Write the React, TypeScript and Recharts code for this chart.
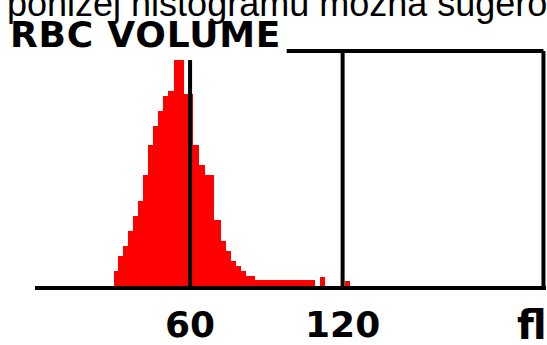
import { AreaChart, Area, XAxis, YAxis, ReferenceLine } from 'recharts'

// bin start (fL) and relative height of each step of the histogram
const BIN_EDGES = [30, 31.5, 33.5, 35.5, 37.5, 39.5, 41.5, 43.5, 45.5, 47.5, 49.5, 51.5, 53.5, 57.5, 61, 63.5, 66, 69.5, 72, 74, 76, 78, 80, 82, 85.5, 109, 111, 113, 121, 123]
const BIN_HEIGHTS = [7.4, 13.9, 18.3, 24.8, 31.7, 38.3, 49.6, 62.6, 70.9, 77.8, 84.3, 86.5, 100, 85, 62.6, 53.9, 49.6, 30, 20.4, 16.1, 11.7, 9.6, 7.4, 5.2, 3.5, 0, 4.8, 0, 3, 0]

const X_TICKS = [60, 120]
const X_DOMAIN: [number, number] = [-1, 200]
const FRAME_RIGHT = 199
const FRAME_TOP = 104
const UNDERLINE_START = 98

const TITLE = 'RBC VOLUME'
const UNIT = 'fl'
const CAPTION = 'poniżej histogramu można sugerować'

const data = BIN_EDGES.map((v, i) => ({ v, h: BIN_HEIGHTS[i] }))

const BOLD = '"DejaVu Sans", sans-serif'
const LINE = 4

function Tick(props: any) {
  const { x, y, payload } = props
  return (
    <text x={x} y={y} dy={41} textAnchor="middle" fontFamily={BOLD} fontWeight="bold" fontSize={36} fill="#000">
      {payload.value}
    </text>
  )
}

export default function App() {
  return (
    <div style={{ position: 'absolute', left: 0, top: 0, width: 547, height: 345, background: '#fff', overflow: 'hidden' }}>
      <AreaChart width={547} height={345} data={data} margin={{ top: 60, right: 1, bottom: 0, left: 35 }}>
        <XAxis
          type="number"
          dataKey="v"
          domain={X_DOMAIN}
          ticks={X_TICKS}
          height={57}
          tickLine={false}
          axisLine={{ stroke: '#000', strokeWidth: LINE }}
          tick={<Tick />}
          interval={0}
        />
        <YAxis width={0} domain={[0, 100]} tick={false} tickLine={false} axisLine={{ stroke: '#000', strokeWidth: LINE }} />
        <Area
          type="stepAfter"
          dataKey="h"
          stroke="none"
          fill="#ff0000"
          fillOpacity={1}
          shapeRendering="crispEdges"
          dot={false}
          activeDot={false}
          isAnimationActive={false}
        />
        <ReferenceLine x={60} stroke="#000" strokeWidth={LINE} />
        <ReferenceLine segment={[{ x: 120, y: 0 }, { x: 120, y: FRAME_TOP }]} stroke="#000" strokeWidth={LINE} ifOverflow="visible" />
        <ReferenceLine segment={[{ x: FRAME_RIGHT, y: 0 }, { x: FRAME_RIGHT, y: FRAME_TOP }]} stroke="#000" strokeWidth={LINE} ifOverflow="visible" />
        <ReferenceLine segment={[{ x: UNDERLINE_START, y: FRAME_TOP }, { x: FRAME_RIGHT, y: FRAME_TOP }]} stroke="#000" strokeWidth={LINE} ifOverflow="visible" />
      </AreaChart>
      <svg width={547} height={345} style={{ position: 'absolute', left: 0, top: 0, pointerEvents: 'none' }}>
        <text x={7} y={15.5} fontFamily='"Liberation Sans", Arial, sans-serif' fontSize={36} fill="#000">{CAPTION}</text>
        <text x={10} y={46.5} fontFamily={BOLD} fontWeight="bold" fontSize={36} letterSpacing={0.8} fill="#000">{TITLE}</text>
        <text x={517} y={339} fontFamily={BOLD} fontWeight="bold" fontSize={40} fill="#000">{UNIT}</text>
      </svg>
    </div>
  )
}
